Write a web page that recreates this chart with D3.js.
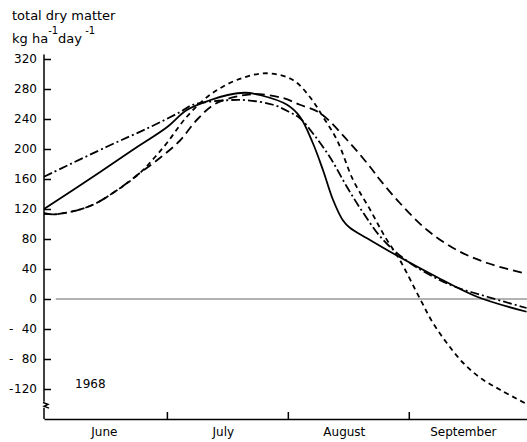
<!DOCTYPE html>
<html>
<head>
<meta charset="utf-8">
<script src="https://cdn.jsdelivr.net/npm/d3@7"></script>
<style>
  html, body { margin: 0; padding: 0; background: #fff; }
  svg { display: block; font-family: "DejaVu Sans", sans-serif; }
</style>
</head>
<body>
<svg id="chart" width="527" height="442"></svg>
<script>
// Days counted from 1 June 1968; values in kg ha-1 day-1 of total dry matter.
const solidDays   = [-1.5, 12.8, 21.3, 30, 35.1, 41, 45.6, 50, 53.8, 60.8, 64.1, 67.4, 70, 72.6, 75.1, 76.9, 81.3, 87.9, 98.2, 109.5, 122.2];
const solidValues = [120, 169, 199, 229, 252, 265, 272, 275, 272, 259, 243, 208, 172, 132, 105, 95, 81, 61, 32, 3, -17];

const dashDotDays   = [-1.5, 14.6, 25.6, 33.3, 36.7, 45.4, 50.5, 57.2, 61.5, 64.1, 67.4, 71.8, 76.2, 80.3, 85.4, 92.3, 102.6, 112.1, 122.2];
const dashDotValues = [163, 203, 229, 249, 259, 265, 265, 259, 249, 241, 221, 189, 149, 115, 79, 48, 19, 3, -12];

const longDashDays   = [-1.5, 1.5, 10.3, 17.2, 23.1, 28.2, 33.3, 37.7, 42.3, 48.7, 53.8, 59.7, 64.1, 69.2, 76.2, 82.1, 84.6, 89.7, 96.7, 104.4, 112.1, 121.0];
const longDashValues = [114, 113, 124, 145, 168, 188, 211, 239, 260, 271, 273, 268, 259, 248, 212, 176, 159, 128, 92, 65, 48, 35];

const shortDashDays   = [-1.5, 1.5, 10.3, 17.2, 23.1, 26.9, 30, 35.1, 41, 47.9, 55.6, 62.3, 66.7, 70, 73.6, 77.7, 82.1, 85.9, 89.7, 94.9, 98.2, 101.8, 105.9, 110.3, 115.4, 122.2];
const shortDashValues = [114, 113, 124, 145, 168, 189, 208, 243, 272, 292, 301, 292, 269, 243, 212, 159, 119, 83, 52, 0, -32, -59, -85, -105, -121, -140];

const yTicks = [320, 280, 240, 200, 160, 120, 80, 40, 0, -40, -80, -120];
const monthNames  = ["June", "July", "August", "September"];
const monthStarts = [0, 30, 61, 92, 122];

const svg = d3.select("#chart");
const x = d3.scaleLinear().domain([-1.5, 122.3]).range([44, 527]);
const y = d3.scaleLinear().domain([-160, 320]).range([419, 59]);

const series = [
  { days: solidDays,     values: solidValues,     dash: null },
  { days: dashDotDays,   values: dashDotValues,   dash: "9,3,2,3" },
  { days: longDashDays,  values: longDashValues,  dash: "9,5" },
  { days: shortDashDays, values: shortDashValues, dash: "5,4" }
];

// zero reference line
svg.append("line")
  .attr("x1", x(1.5)).attr("x2", 527)
  .attr("y1", y(0)).attr("y2", y(0))
  .attr("stroke", "#666").attr("stroke-width", 1);

// y axis: ticks point into the plot, labels on the left
const yAxis = d3.axisLeft(y)
  .tickValues(yTicks)
  .tickSizeInner(-7)
  .tickSizeOuter(0)
  .tickPadding(7)
  .tickFormat(d => Math.abs(d));
const gy = svg.append("g").attr("transform", `translate(${x(-1.5)},0)`).call(yAxis);
gy.select(".domain").remove();
gy.selectAll(".tick line").attr("stroke", "#000").attr("stroke-width", 1.5);
gy.selectAll(".tick text").attr("font-size", 12).attr("fill", "#000")
  .attr("font-family", "DejaVu Sans, sans-serif");
gy.selectAll(".tick").filter(d => d < 0)
  .append("text")
  .attr("x", -35).attr("dy", "0.32em")
  .attr("font-size", 12).attr("fill", "#000")
  .attr("text-anchor", "start")
  .attr("font-family", "DejaVu Sans, sans-serif")
  .text("-");

// y axis line with a break near the bottom
const ax = x(-1.5);
svg.append("path")
  .attr("d", `M${ax},${y(326)}V${y(-137)}M${ax},${y(-145)}V${y(-160)}`)
  .attr("fill", "none").attr("stroke", "#000").attr("stroke-width", 1.5);
svg.append("path")
  .attr("d", `M${ax - 1},${y(-138)} L${ax + 4},${y(-140.5)} L${ax},${y(-143)} L${ax + 5},${y(-145.5)}`)
  .attr("fill", "none").attr("stroke", "#000").attr("stroke-width", 1.4);

// x axis with month boundary ticks
const xAxis = d3.axisBottom(x)
  .tickValues(monthStarts.slice(1, 4))
  .tickSizeInner(-7)
  .tickSizeOuter(0)
  .tickFormat("");
const gx = svg.append("g").attr("transform", `translate(0,${y(-160)})`).call(xAxis);
gx.select(".domain").attr("stroke", "#000").attr("stroke-width", 1.5);
gx.selectAll(".tick line").attr("stroke", "#000").attr("stroke-width", 1.5);

svg.append("g").selectAll("text")
  .data(monthNames)
  .join("text")
  .attr("x", (d, i) => x((monthStarts[i] + monthStarts[i + 1]) / 2) - 4)
  .attr("y", 436)
  .attr("text-anchor", "middle")
  .attr("font-size", 12)
  .text(d => d);

// curves
const line = d3.line()
  .x(d => x(d[0]))
  .y(d => y(d[1]))
  .curve(d3.curveCatmullRom.alpha(0.5));

svg.append("g").selectAll("path")
  .data(series)
  .join("path")
  .attr("d", s => line(s.days.map((d, i) => [d, s.values[i]])))
  .attr("fill", "none")
  .attr("stroke", "#000")
  .attr("stroke-width", 1.8)
  .attr("stroke-dasharray", s => s.dash);

// axis title
const title = svg.append("g").attr("font-size", 13);
title.append("text").attr("x", 12).attr("y", 20).text("total dry matter");
const unit = title.append("text").attr("x", 12).attr("y", 43);
unit.append("tspan").text("kg ha");
unit.append("tspan").attr("dy", -9).attr("font-size", 10).text("-1");
unit.append("tspan").attr("dy", 9).text("day");
unit.append("tspan").attr("dy", -9).attr("font-size", 10).text(" -1");

svg.append("text").attr("x", 75).attr("y", 388).attr("font-size", 12).text("1968");
</script>
</body>
</html>
